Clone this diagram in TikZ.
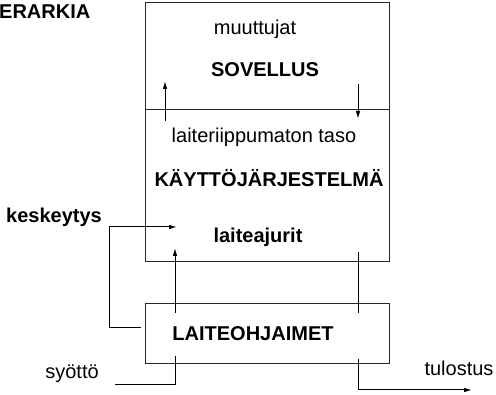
\documentclass[tikz,border=0pt]{standalone}
\usepackage{fontspec}
\setmainfont{Liberation Sans}
\usetikzlibrary{arrows.meta}
\tikzset{
  layer/.style={
    draw=black!85,
    line width=1pt,
    minimum width=244pt,
    inner sep=0pt,
  },
  plain text/.style={
    font=\fontsize{20}{24}\selectfont,
    inner sep=0pt,
    anchor=base,
  },
  bold text/.style={
    plain text,
    font=\fontsize{20}{24}\selectfont\bfseries,
  }
}

\begin{document}
\begin{tikzpicture}[x=1pt, y=-1pt]
        \useasboundingbox (0,0) rectangle (496,395);

        % layers
        \node[layer, minimum height=107pt] (app)  at (267, 56.5) {};
        \node[layer, minimum height=152pt] (os)   at (267,186  ) {};
        \node[layer, minimum height=60pt]  (ctrl) at (267,334  ) {};

        \begin{scope}[every node/.style={plain text}]
            \node (muut)  at (255,35)  {muuttujat};
            \node (indep) at (264,143) {laiteriippumaton taso};
            \node (syot)  at (72,379)  {syöttö};
            \node (tulo)  at (459,376) {tulostus};
        \end{scope}
        \begin{scope}[every node/.style={bold text}]
            \node[anchor=base west] (title) at (-1,19) {ERARKIA};
            \node (sov)   at (265,77)  {SOVELLUS};
            \node (kj)    at (269,187) {KÄYTTÖJÄRJESTELMÄ};
            \node (ajur)  at (258,243) {laiteajurit};
            \node (kesk)  at (54,223)  {keskeytys};
            \node (lo)    at (253,341) {LAITEOHJAIMET};
        \end{scope}

        % connector ends
        \coordinate (up1a) at (165,121);
        \coordinate (up1b) at (165,82);
        \coordinate (dn1a) at (358,84);
        \coordinate (dn1b) at (358,118);
        \coordinate (up2a) at (175,313);
        \coordinate (up2b) at (175,249);
        \coordinate (ln2a) at (358,252);
        \coordinate (ln2b) at (358,313);
        \coordinate (ke1)  at (141,328);
        \coordinate (ke2)  at (109,227);
        \coordinate (ke3)  at (176,227);
        \coordinate (sy1)  at (115,385);
        \coordinate (sy2)  at (175,356);
        \coordinate (tu1)  at (358,359);
        \coordinate (tu2)  at (471,390);

        \begin{scope}[>={Triangle[length=7pt,width=4pt]}, every edge/.style={draw=black,line width=1pt}]
            \path [->] (up1a) edge (up1b);
            \path [->] (dn1a) edge (dn1b);
            \path [->] (up2a) edge (up2b);
            \path [-]  (ln2a) edge (ln2b);

            \draw [->, line width=1pt] (ke1) -| (ke2) -- (ke3);
            \draw [line width=1pt] (sy1) -| (sy2);
            \draw [->, line width=1pt] (tu1) |- (tu2);
        \end{scope}
    \end{tikzpicture}
\end{document}
